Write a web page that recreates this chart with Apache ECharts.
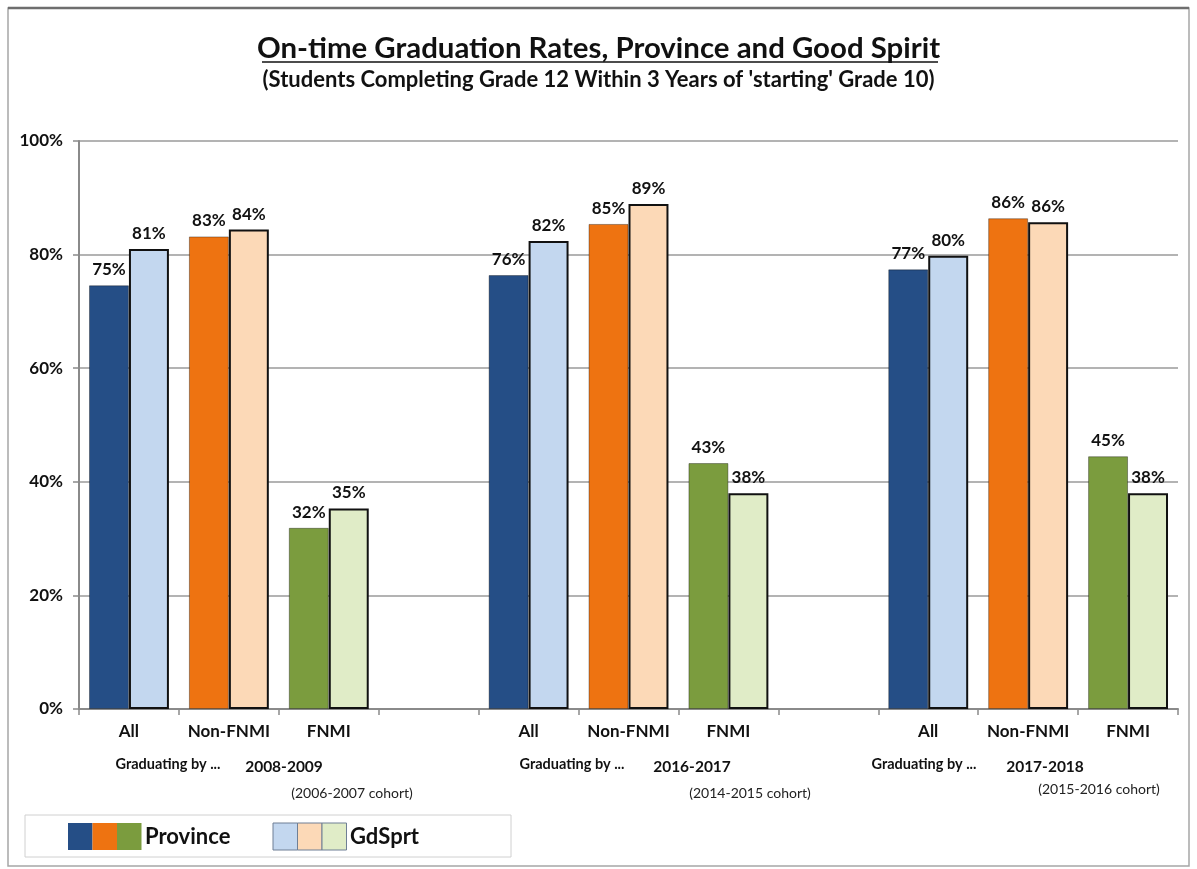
<!DOCTYPE html>
<html>
<head>
<meta charset="utf-8">
<script src="https://cdn.jsdelivr.net/npm/echarts@6/dist/echarts.min.js"></script>
<style>
html,body{margin:0;padding:0;background:#fff;}
#chart{width:1197px;height:869px;}
</style>
</head>
<body>
<div id="chart"></div>
<script>
// ---- data ----
var categories = ['All', 'Non-FNMI', 'FNMI', '', 'All ', 'Non-FNMI ', 'FNMI ', ' ', 'All  ', 'Non-FNMI  ', 'FNMI  '];
var categoryTypes = ['all', 'non', 'fnmi', null, 'all', 'non', 'fnmi', null, 'all', 'non', 'fnmi'];
var provinceValues = [74.6, 83.2, 31.9, null, 76.4, 85.4, 43.3, null, 77.4, 86.4, 44.5];
var gdsprtValues = [81.0, 84.4, 35.3, null, 82.4, 88.9, 38.0, null, 79.8, 85.7, 38.0];
var yTicks = [0, 20, 40, 60, 80, 100];
var groupYears = ['2008-2009', '2016-2017', '2017-2018'];
var groupCohorts = ['(2006-2007 cohort)', '(2014-2015 cohort)', '(2015-2016 cohort)'];
var seriesNames = ['Province', 'GdSprt'];

var provinceColors = {all: '#254E86', non: '#EE7311', fnmi: '#7B9C3E'};
var gdsprtColors = {all: '#C3D7EF', non: '#FCD9B7', fnmi: '#E0ECC7'};

var FONT = 'Lato, "Open Sans", sans-serif';

var chart = echarts.init(document.getElementById('chart'));

function lbl(v) { return Math.round(v) + '%'; }

var option = {
  animation: false,
  backgroundColor: '#ffffff',
  title: [{
    text: 'On-time Graduation Rates, Province and Good Spirit',
    left: 'center', top: 29,
    textStyle: {fontFamily: FONT, fontSize: 29.4, fontWeight: 'bold', color: '#111'}
  }, {
    text: "(Students Completing Grade 12 Within 3 Years of 'starting' Grade 10)",
    left: 'center', top: 64,
    textStyle: {fontFamily: FONT, fontSize: 22, fontWeight: 'bold', color: '#111'}
  }],
  grid: {left: 79, right: 19, top: 141, bottom: 160, containLabel: false},
  xAxis: {
    type: 'category',
    data: categories,
    axisLine: {show: true, lineStyle: {color: '#8a8a8a', width: 2}},
    axisTick: {show: true, length: 6, interval: 0, lineStyle: {color: '#8a8a8a', width: 1.5}},
    axisLabel: {
      interval: 0, margin: 14,
      fontFamily: FONT, fontSize: 17, fontWeight: 'bold', color: '#111',
      formatter: function (v) { return v.trim(); }
    }
  },
  yAxis: {
    type: 'value', min: 0, max: 100, interval: 20,
    axisLine: {show: true, lineStyle: {color: '#8a8a8a', width: 2}},
    axisTick: {show: true, length: 6, lineStyle: {color: '#8a8a8a', width: 1.5}},
    axisLabel: {
      margin: 16, fontFamily: FONT, fontSize: 17, fontWeight: 'bold', color: '#111',
      formatter: function (v) { return yTicks.indexOf(v) >= 0 ? v + '%' : ''; }
    },
    splitLine: {show: true, lineStyle: {color: '#9a9a9a', width: 1.5}}
  },
  series: [{
    name: seriesNames[0],
    type: 'bar',
    data: provinceValues,
    barGap: '0%',
    barCategoryGap: '20%',
    itemStyle: {
      color: function (p) { return provinceColors[categoryTypes[p.dataIndex]]; },
      borderColor: 'rgba(0,0,0,0.35)', borderWidth: 1
    },
    label: {
      show: true, position: 'top', distance: 7,
      fontFamily: FONT, fontSize: 17, fontWeight: 'bold', color: '#111',
      formatter: function (p) { return lbl(p.value); }
    }
  }, {
    name: seriesNames[1],
    type: 'bar',
    data: gdsprtValues,
    barGap: '0%',
    barCategoryGap: '20%',
    itemStyle: {
      color: function (p) { return gdsprtColors[categoryTypes[p.dataIndex]]; },
      borderColor: '#111', borderWidth: 2
    },
    label: {
      show: true, position: 'top', distance: 7,
      fontFamily: FONT, fontSize: 17, fontWeight: 'bold', color: '#111',
      formatter: function (p) { return lbl(p.value); }
    }
  }]
};
chart.setOption(option);

// ---- annotations and legend (graphic) ----
var gradX = [168, 572, 924];
var yearX = [284, 692, 1045];
var cohortX = [352, 750, 1099];
var cohortY = [793, 793, 789];
var g = [];
// outer border
g.push({type: 'rect', shape: {x: 8, y: 8, width: 1181, height: 858},
  style: {fill: null, stroke: '#a6a6a6', lineWidth: 1.5}, z: 0});
g.push({type: 'line', shape: {x1: 8, y1: 8, x2: 1189, y2: 8},
  style: {stroke: '#6e6e6e', lineWidth: 2.5}, z: 0});
// title underline
g.push({type: 'line', shape: {x1: 262, y1: 62, x2: 938, y2: 62},
  style: {stroke: '#111', lineWidth: 1.5}});
for (var i = 0; i < 3; i++) {
  g.push({type: 'text', x: gradX[i], y: 764, style: {text: 'Graduating by ...', fontFamily: FONT,
    fontSize: 14.5, fontWeight: 'bold', fill: '#111', align: 'center', verticalAlign: 'middle'}});
  g.push({type: 'text', x: yearX[i], y: 767, style: {text: groupYears[i], fontFamily: FONT,
    fontSize: 15.5, fontWeight: 'bold', fill: '#111', align: 'center', verticalAlign: 'middle'}});
  g.push({type: 'text', x: cohortX[i], y: cohortY[i], style: {text: groupCohorts[i], fontFamily: FONT,
    fontSize: 14, fill: '#222', align: 'center', verticalAlign: 'middle'}});
}
// legend box
g.push({type: 'rect', shape: {x: 25, y: 815, width: 486, height: 42},
  style: {fill: '#fff', stroke: '#d0d0d0', lineWidth: 1}});
var legendTypes = ['all', 'non', 'fnmi'];
for (var k = 0; k < 3; k++) {
  g.push({type: 'rect', shape: {x: 68 + k * 24.5, y: 823, width: 24.5, height: 27},
    style: {fill: provinceColors[legendTypes[k]], stroke: null}});
  g.push({type: 'rect', shape: {x: 273 + k * 24.5, y: 823, width: 24.5, height: 27},
    style: {fill: gdsprtColors[legendTypes[k]], stroke: '#6f7f95', lineWidth: 1}});
}
g.push({type: 'text', x: 145, y: 837, style: {text: seriesNames[0], fontFamily: FONT,
  fontSize: 22, fontWeight: 'bold', fill: '#111', verticalAlign: 'middle'}});
g.push({type: 'text', x: 350, y: 837, style: {text: seriesNames[1], fontFamily: FONT,
  fontSize: 22, fontWeight: 'bold', fill: '#111', verticalAlign: 'middle'}});
chart.setOption({graphic: g});
</script>
</body>
</html>
